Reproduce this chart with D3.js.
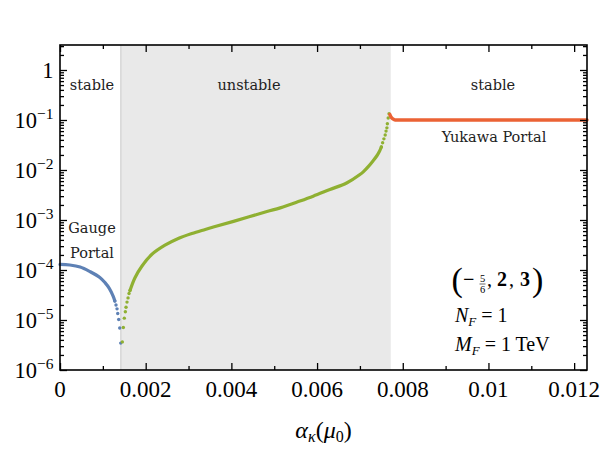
<!DOCTYPE html>
<html>
<head>
<meta charset="utf-8">
<script src="https://cdn.jsdelivr.net/npm/d3@7"></script>
<style>
  body { margin: 0; background: #fff; }
  svg { display: block; }
</style>
</head>
<body>
<script>
const width = 603,
  height = 453;

const margin = { top: 45, right: 16, bottom: 83, left: 60 };

// x ticks
const xMajor = [0, 0.002, 0.004, 0.006, 0.008, 0.01, 0.012];
const xMajorLabels = ["0", "0.002", "0.004", "0.006", "0.008", "0.01", "0.012"];
const xMinor = [0.001, 0.003, 0.005, 0.007, 0.009, 0.011];

// y ticks (decade exponents)
const yDecades = [-6, -5, -4, -3, -2, -1, 0];

// stability regions (boundaries in alpha)
const unstableRange = [0.00142, 0.00772];
const regionNames = ["stable", "unstable", "stable"];

// gauge portal branch: smooth part, then separate points near the dip
const blueLine = [
  [0, 1.29e-4], [0.00023, 1.26e-4], [0.00047, 1.15e-4], [0.0007, 9.3e-5],
  [0.00093, 7.1e-5], [0.00105, 5.6e-5], [0.00115, 4.3e-5], [0.00124, 3.0e-5],
  [0.00128, 2.4e-5]
];
const blueDots = [
  [0.00128, 2.4e-5], [0.001307, 2.0e-5], [0.001331, 1.67e-5], [0.001347, 1.35e-5],
  [0.00137, 1.02e-5], [0.001394, 6.9e-6], [0.001417, 3.45e-6]
];

// unstable branch
const greenDotsLow = [
  [0.001455, 3.65e-6], [0.001478, 7.1e-6], [0.001501, 1.09e-5], [0.001525, 1.46e-5],
  [0.001541, 1.8e-5], [0.001564, 2.28e-5], [0.001588, 2.77e-5], [0.001611, 3.4e-5],
  [0.001634, 3.9e-5]
];
const greenLine = [
  [0.001634, 3.9e-5], [0.00175, 7.0e-5], [0.00191, 1.19e-4], [0.00214, 2.04e-4],
  [0.00245, 3.13e-4], [0.00276, 4.27e-4], [0.00308, 5.37e-4], [0.00339, 6.46e-4],
  [0.0036, 7.3e-4], [0.00405, 9.4e-4], [0.00483, 1.48e-3], [0.00514, 1.75e-3],
  [0.0056, 2.4e-3], [0.00591, 3.0e-3], [0.0063, 4.07e-3], [0.00669, 5.5e-3],
  [0.007, 8.1e-3], [0.0071, 9.6e-3], [0.0072, 1.18e-2], [0.0073, 1.5e-2],
  [0.0074, 1.95e-2], [0.00746, 2.4e-2], [0.0075, 2.88e-2]
];
const greenDotsHigh = [
  [0.0075, 2.88e-2], [0.00753, 3.5e-2], [0.00756, 4.2e-2], [0.00759, 5.0e-2],
  [0.00761, 6.0e-2], [0.00763, 6.96e-2], [0.00764, 8.4e-2], [0.00766, 0.11],
  [0.00768, 0.133]
];

// yukawa portal branch
const orangeLine = [
  [0.0077, 0.129], [0.00772, 0.117], [0.00777, 0.105], [0.00782, 0.1],
  [0.009, 0.1], [0.0105, 0.1], [0.0123, 0.1]
];

const svg = d3
  .select("body")
  .append("svg")
  .attr("width", width)
  .attr("height", height);

const xScale = d3
  .scaleLinear()
  .domain([0, 0.0123])
  .range([margin.left, width - margin.right]);

const yScale = d3
  .scaleLog()
  .domain([1e-6, Math.pow(10, 0.5)])
  .range([height - margin.bottom, margin.top]);

const x0 = xScale.range()[0],
  x1 = xScale.range()[1],
  yb = yScale.range()[0],
  yt = yScale.range()[1];

// shaded unstable region
svg
  .append("rect")
  .attr("x", xScale(unstableRange[0]))
  .attr("y", yt)
  .attr("width", xScale(unstableRange[1]) - xScale(unstableRange[0]))
  .attr("height", yb - yt)
  .attr("fill", "#e9e9e9");

svg
  .append("line")
  .attr("x1", xScale(unstableRange[0]))
  .attr("x2", xScale(unstableRange[0]))
  .attr("y1", yt)
  .attr("y2", yb)
  .attr("stroke", "#c9c9c9")
  .attr("stroke-width", 1);

// curves
const smooth = d3
  .line()
  .x(d => xScale(d[0]))
  .y(d => yScale(d[1]))
  .curve(d3.curveCatmullRom.alpha(0.5));

const mono = d3
  .line()
  .x(d => xScale(d[0]))
  .y(d => yScale(d[1]))
  .curve(d3.curveMonotoneX);

function drawLine(data, color, w, gen) {
  svg
    .append("path")
    .datum(data)
    .attr("d", gen)
    .attr("fill", "none")
    .attr("stroke", color)
    .attr("stroke-width", w)
    .attr("stroke-linecap", "round");
}

function drawDots(data, color) {
  svg
    .append("g")
    .selectAll("circle")
    .data(data)
    .enter()
    .append("circle")
    .attr("cx", d => xScale(d[0]))
    .attr("cy", d => yScale(d[1]))
    .attr("r", 1.7)
    .attr("fill", color);
}

drawLine(blueLine, "#5e81b5", 3.2, smooth);
drawDots(blueDots, "#5e81b5");
drawDots(greenDotsLow, "#8fb032");
drawLine(greenLine, "#8fb032", 3.2, smooth);
drawDots(greenDotsHigh, "#8fb032");
drawLine(orangeLine, "#eb6235", 3.4, mono);

// axes with inward ticks on all four sides
const yMinor = [];
yDecades.forEach(e => {
  for (let m = 2; m <= 9; m++) {
    const v = m * Math.pow(10, e);
    if (v < yScale.domain()[1]) yMinor.push(v);
  }
});
const yMajor = yDecades.map(e => Math.pow(10, e));

function addAxis(axisFn, scale, values, size, transform) {
  const g = svg
    .append("g")
    .attr("transform", transform)
    .call(axisFn(scale).tickValues(values).tickSize(size).tickFormat(""));
  g.select(".domain").remove();
  g.selectAll("line").attr("stroke", "#000").attr("stroke-width", 1.3);
}

addAxis(d3.axisBottom, xScale, xMajor, -7, `translate(0,${yb})`);
addAxis(d3.axisBottom, xScale, xMinor, -4, `translate(0,${yb})`);
addAxis(d3.axisTop, xScale, xMajor, -7, `translate(0,${yt})`);
addAxis(d3.axisTop, xScale, xMinor, -4, `translate(0,${yt})`);
addAxis(d3.axisLeft, yScale, yMajor, -7, `translate(${x0},0)`);
addAxis(d3.axisLeft, yScale, yMinor, -4, `translate(${x0},0)`);
addAxis(d3.axisRight, yScale, yMajor, -7, `translate(${x1},0)`);
addAxis(d3.axisRight, yScale, yMinor, -4, `translate(${x1},0)`);

// frame
svg
  .append("rect")
  .attr("x", x0)
  .attr("y", yt)
  .attr("width", x1 - x0)
  .attr("height", yb - yt)
  .attr("fill", "none")
  .attr("stroke", "#000")
  .attr("stroke-width", 1.6);

const serif = "'Liberation Serif', 'Times New Roman', serif";

// x tick labels
svg
  .append("g")
  .selectAll("text")
  .data(xMajor)
  .enter()
  .append("text")
  .attr("x", d => xScale(d))
  .attr("y", yb + 26.5)
  .attr("text-anchor", "middle")
  .attr("font-family", serif)
  .attr("font-size", 23)
  .text((d, i) => xMajorLabels[i]);

// y tick labels
const yLab = svg
  .append("g")
  .selectAll("text")
  .data(yDecades)
  .enter()
  .append("text")
  .attr("x", x0 - 6.5)
  .attr("y", d => yScale(Math.pow(10, d)) + 7.8)
  .attr("text-anchor", "end")
  .attr("font-family", serif)
  .attr("font-size", 22.5);

yLab.each(function(d) {
  const t = d3.select(this);
  if (d === 0) {
    t.text("1");
  } else {
    t.append("tspan").text("10");
    t.append("tspan")
      .attr("dy", -8.5)
      .attr("font-size", 15.5)
      .text("\u2212" + Math.abs(d));
  }
});

// axis label
const xl = svg
  .append("text")
  .attr("x", 323.5)
  .attr("y", 438)
  .attr("text-anchor", "middle")
  .attr("font-family", serif)
  .attr("font-size", 24);
xl.append("tspan").attr("font-style", "italic").text("\u03b1");
xl.append("tspan").attr("font-style", "italic").attr("font-size", 16).attr("dy", 4).text("\u03ba");
xl.append("tspan").attr("dy", -4).text("(");
xl.append("tspan").attr("font-style", "italic").text("\u03bc");
xl.append("tspan").attr("font-size", 16).attr("dy", 4).text("0");
xl.append("tspan").attr("dy", -4).text(")");

// region annotations
const labelFont = "'DejaVu Serif', serif";
const regionX = [92, 249, 493];
regionNames.forEach((name, i) => {
  svg
    .append("text")
    .attr("x", regionX[i])
    .attr("y", 89.5)
    .attr("text-anchor", "middle")
    .attr("font-family", labelFont)
    .attr("font-size", 14.5)
    .attr("fill", "#222")
    .text(name);
});

const portalLabels = [
  { lines: ["Gauge", "Portal"], x: 92, y: 233 },
  { lines: ["Yukawa Portal"], x: 494, y: 141.5 }
];
portalLabels.forEach(p => {
  p.lines.forEach((s, j) => {
    svg
      .append("text")
      .attr("x", p.x)
      .attr("y", p.y + j * 25)
      .attr("text-anchor", "middle")
      .attr("font-family", labelFont)
      .attr("font-size", 14.5)
      .attr("fill", "#222")
      .text(s);
  });
});

// model parameters
const lg = svg.append("g").attr("font-family", serif).attr("fill", "#000");

lg.append("text").attr("x", 451.5).attr("y", 291).attr("font-size", 34).attr("font-weight", 300).text("(");
lg.append("text").attr("x", 532).attr("y", 291).attr("font-size", 34).attr("font-weight", 300).text(")");
lg.append("text").attr("x", 463).attr("y", 286).attr("font-size", 20).attr("font-weight", "bold").text("\u2212");
lg.append("text").attr("x", 482.5).attr("y", 282).attr("font-size", 10.5).attr("text-anchor", "middle").text("5");
lg.append("line").attr("x1", 479.5).attr("x2", 485.5).attr("y1", 284).attr("y2", 284).attr("stroke", "#000").attr("stroke-width", 0.6);
lg.append("text").attr("x", 482.5).attr("y", 293).attr("font-size", 10.5).attr("text-anchor", "middle").text("6");
lg.append("text").attr("x", 487).attr("y", 286).attr("font-size", 20).text(",");
lg.append("text").attr("x", 497).attr("y", 286).attr("font-size", 20).attr("font-weight", "bold").text("2");
lg.append("text").attr("x", 509).attr("y", 286).attr("font-size", 20).text(",");
lg.append("text").attr("x", 520).attr("y", 286).attr("font-size", 20).attr("font-weight", "bold").text("3");

const nf = lg.append("text").attr("x", 455).attr("y", 322).attr("font-size", 20);
nf.append("tspan").attr("font-style", "italic").text("N");
nf.append("tspan").attr("font-style", "italic").attr("font-size", 13).attr("dy", 4).text("F");
nf.append("tspan").attr("dy", -4).text(" = 1");

const mf = lg.append("text").attr("x", 455).attr("y", 351).attr("font-size", 20);
mf.append("tspan").attr("font-style", "italic").text("M");
mf.append("tspan").attr("font-style", "italic").attr("font-size", 13).attr("dy", 4).text("F");
mf.append("tspan").attr("dy", -4).text(" = 1 TeV");
</script>
</body>
</html>
